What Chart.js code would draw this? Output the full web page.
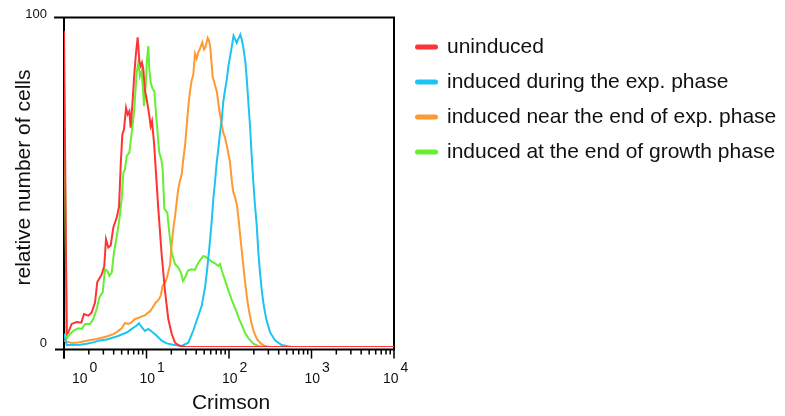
<!DOCTYPE html>
<html>
<head>
<meta charset="utf-8">
<script src="https://cdn.jsdelivr.net/npm/chart.js@4.4.0/dist/chart.umd.min.js"></script>
<style>
  html, body { margin: 0; padding: 0; background: #fff; }
</style>
</head>
<body>
<canvas id="myChart" width="785" height="416"></canvas>
<script>
// x values are log10(Crimson), y values are relative number of cells (0-100)
const uninducedLog = [0, 0.033, 0.052, 0.093, 0.154, 0.210, 0.242, 0.295, 0.336, 0.376, 0.404, 0.457, 0.488, 0.509, 0.537, 0.566, 0.598, 0.639, 0.667, 0.687, 0.707, 0.727, 0.752, 0.772, 0.792, 0.808, 0.833, 0.852, 0.873, 0.893, 0.913, 0.930, 0.945, 0.961, 0.982, 1.002, 1.030, 1.051, 1.067, 1.091, 1.112, 1.143, 1.184, 1.224, 1.264, 1.305, 1.345, 1.406, 1.479, 4];
const uninducedCount = [96, 4.0, 4.4, 7.0, 7.6, 7.4, 10.0, 9.5, 10.5, 13.5, 19.8, 22.0, 24.6, 32.7, 30.2, 30.8, 36.3, 39.3, 42.5, 55, 64.5, 66, 72.6, 70.6, 71.6, 66.6, 75.2, 82.7, 89.3, 94, 86.8, 85.3, 86.3, 84.3, 77.7, 75.2, 71, 67, 68.5, 62, 54, 42, 28, 17, 8.5, 4, 1.3, 0.3, 0, 0];

const expLog = [0, 0.033, 0.097, 0.194, 0.275, 0.355, 0.436, 0.518, 0.639, 0.699, 0.760, 0.821, 0.881, 0.909, 0.942, 0.982, 1.022, 1.063, 1.124, 1.184, 1.245, 1.325, 1.427, 1.507, 1.567, 1.628, 1.669, 1.709, 1.733, 1.761, 1.790, 1.810, 1.830, 1.851, 1.870, 1.891, 1.912, 1.931, 1.952, 1.972, 1.992, 2.012, 2.033, 2.055, 2.073, 2.093, 2.113, 2.137, 2.158, 2.176, 2.198, 2.215, 2.234, 2.255, 2.275, 2.295, 2.315, 2.336, 2.355, 2.376, 2.396, 2.416, 2.436, 2.457, 2.497, 2.558, 2.639, 2.715, 2.764, 4];
const expCount = [4, 0.6, 0.6, 0.7, 1.0, 1.4, 2.0, 2.3, 3.2, 3.8, 4.4, 5.5, 6.5, 7.2, 6.0, 4.9, 5.5, 4.7, 3.4, 1.9, 1.1, 0.7, 0.3, 1.3, 5, 9.5, 12.5, 18, 23, 30, 38, 45, 50, 56, 60, 65, 69, 74.5, 78, 81, 85, 88, 91, 94.5, 93.5, 92.3, 93.5, 94.8, 93, 90.5, 86.5, 81.5, 74.5, 67, 58, 50, 43, 37, 29, 22.5, 17.5, 13.5, 10.5, 8, 4.5, 2, 0.6, 0.2, 0, 0];

const nearEndLog = [0, 0.036, 0.097, 0.173, 0.275, 0.396, 0.518, 0.598, 0.642, 0.699, 0.739, 0.776, 0.808, 0.861, 0.901, 0.942, 0.982, 1.010, 1.042, 1.075, 1.112, 1.143, 1.172, 1.196, 1.224, 1.248, 1.285, 1.305, 1.325, 1.345, 1.366, 1.385, 1.406, 1.427, 1.446, 1.467, 1.487, 1.507, 1.527, 1.548, 1.567, 1.588, 1.608, 1.628, 1.648, 1.676, 1.697, 1.713, 1.742, 1.758, 1.773, 1.802, 1.830, 1.851, 1.882, 1.912, 1.931, 1.952, 1.979, 2.012, 2.036, 2.052, 2.073, 2.097, 2.115, 2.139, 2.164, 2.194, 2.218, 2.242, 2.275, 2.303, 2.339, 2.388, 2.436, 2.497, 4];
const nearEndCount = [2, 1.6, 1.2, 1.4, 1.9, 2.4, 3.2, 3.9, 4.6, 5.7, 7.3, 7.0, 7.3, 8.5, 8.8, 9.3, 9.6, 10.3, 10.8, 12, 13.5, 14.2, 15.5, 18.6, 19.5, 21, 25, 31, 36, 39.5, 44, 48, 50.5, 52.5, 57, 61, 67, 73, 77.5, 81, 82.5, 89, 87.5, 89.5, 90.5, 92.5, 90.3, 90.8, 93.8, 93, 91, 82, 79.5, 77.7, 72, 67.5, 65, 63.5, 60.5, 56, 50, 47, 45.5, 43, 39, 33, 27, 20, 15, 11, 7, 4.5, 2.4, 1.0, 0.3, 0, 0];

const growthEndLog = [0, 0.033, 0.052, 0.113, 0.173, 0.215, 0.255, 0.315, 0.355, 0.396, 0.428, 0.469, 0.497, 0.525, 0.549, 0.578, 0.606, 0.639, 0.670, 0.699, 0.719, 0.739, 0.760, 0.792, 0.821, 0.852, 0.881, 0.901, 0.921, 0.942, 0.954, 0.970, 0.990, 1.006, 1.022, 1.034, 1.051, 1.075, 1.095, 1.124, 1.155, 1.179, 1.196, 1.216, 1.252, 1.276, 1.305, 1.345, 1.385, 1.418, 1.442, 1.470, 1.503, 1.548, 1.588, 1.616, 1.648, 1.688, 1.709, 1.749, 1.790, 1.830, 1.870, 1.891, 1.915, 1.952, 1.988, 2.033, 2.093, 2.125, 2.154, 2.194, 2.234, 2.295, 2.355, 2.416, 4];
const growthEndCount = [81, 2.5, 3.4, 4.9, 5.7, 5.5, 7.0, 7.0, 8.5, 11.5, 15, 16.6, 23.6, 23.1, 21.6, 22.6, 28.7, 33.5, 38.5, 44.9, 52.9, 53.9, 58, 59, 65, 72.1, 83.3, 86.3, 82.2, 83.8, 79.2, 73.1, 79.2, 87.3, 91.3, 84.3, 80.2, 78.2, 77.7, 68, 59, 57, 54, 42, 40.8, 34.8, 28.7, 25.2, 24.1, 22.5, 20, 21.2, 23.2, 23.6, 23.4, 25, 26.3, 27.6, 27.5, 26.8, 25.9, 25.4, 24.6, 25.2, 23, 20.3, 17.5, 14.3, 10.6, 8.3, 6.8, 4.3, 2.7, 1.0, 0.3, 0, 0];

const seriesNames = ['uninduced', 'induced during the exp. phase', 'induced near the end of exp. phase', 'induced at the end of growth phase'];
const decades = [0, 1, 2, 3, 4];      // x tick labels are 10^d
const countTicks = [0, 100];
const xTitle = 'Crimson';
const yTitle = 'relative number of cells';

const colors = ['#ff3333', '#1cc4f4', '#ff9933', '#66ee33'];
const FONT = '"Liberation Sans", Arial, sans-serif';

function pts(logs, counts) {
    return logs.map((l, i) => ({ x: l, y: counts[i] }));
}

const series = [
    pts(uninducedLog, uninducedCount),
    pts(expLog, expCount),
    pts(nearEndLog, nearEndCount),
    pts(growthEndLog, growthEndCount)
];

// axes box, ticks, labels and legend
const frame = {
    id: 'frame',
    beforeDatasetsDraw(chart) {
        const { ctx, chartArea: a, scales: { x } } = chart;
        const yAxis = a.bottom + 2.5;
        ctx.save();
        ctx.strokeStyle = '#000';
        ctx.lineWidth = 2;
        ctx.beginPath();
        ctx.moveTo(54, a.top); ctx.lineTo(a.right + 1, a.top);
        ctx.moveTo(a.right, a.top); ctx.lineTo(a.right, yAxis);
        ctx.moveTo(55, yAxis); ctx.lineTo(a.right + 1, yAxis);
        ctx.moveTo(a.left, a.top - 1); ctx.lineTo(a.left, yAxis + 9);
        ctx.stroke();

        ctx.lineWidth = 1.5;
        ctx.beginPath();
        decades.forEach(d => {
            const px = x.getPixelForValue(d);
            ctx.moveTo(px, yAxis); ctx.lineTo(px, yAxis + 9);
            if (d < decades[decades.length - 1]) {
                for (let k = 2; k < 10; k++) {
                    const mx = x.getPixelForValue(d + Math.log10(k));
                    ctx.moveTo(mx, yAxis); ctx.lineTo(mx, yAxis + 5);
                }
            }
        });
        ctx.stroke();
        ctx.restore();
    },
    afterDraw(chart) {
        const { ctx, chartArea: a, scales: { x, y } } = chart;
        ctx.save();
        ctx.fillStyle = '#111';

        // y ticks
        ctx.font = '13px ' + FONT;
        ctx.textAlign = 'right';
        ctx.textBaseline = 'middle';
        countTicks.forEach(v => {
            ctx.fillText(String(v), 47, y.getPixelForValue(v) - 3.5);
        });

        // x ticks as 10^d
        ctx.font = '14px ' + FONT;
        ctx.textAlign = 'left';
        ctx.textBaseline = 'alphabetic';
        decades.forEach((d, i) => {
            const px = x.getPixelForValue(d);
            let left = px - 7;
            if (i === 0) left = px + 8;
            if (i === decades.length - 1) left = px - 11;
            const w = ctx.measureText('10').width;
            ctx.fillText('10', left, 383);
            ctx.fillText(String(d), left + w + 2, 372);
        });

        // axis titles
        ctx.font = '21px ' + FONT;
        ctx.textAlign = 'center';
        ctx.fillText(xTitle, 231, 409);
        ctx.save();
        ctx.translate(30, 177.5);
        ctx.rotate(-Math.PI / 2);
        ctx.fillText(yTitle, 0, 0);
        ctx.restore();

        // legend
        ctx.textAlign = 'left';
        chart.data.datasets.forEach((ds, i) => {
            const cy = 47 + i * 35;
            ctx.strokeStyle = ds.borderColor;
            ctx.lineWidth = 5;
            ctx.lineCap = 'round';
            ctx.beginPath();
            ctx.moveTo(417.5, cy); ctx.lineTo(435.5, cy);
            ctx.stroke();
            ctx.fillStyle = '#111';
            ctx.fillText(ds.label, 447, cy + 5.5);
        });
        ctx.restore();
    }
};

const ctx = document.getElementById('myChart');

const myChart = new Chart(ctx, {
    type: 'line',
    data: {
        datasets: series.map((s, i) => ({
            label: seriesNames[i],
            data: s,
            borderColor: colors[i],
            backgroundColor: colors[i],
            borderWidth: 2,
            pointRadius: 0,
            tension: 0,
            fill: false
        }))
    },
    options: {
        responsive: false,
        animation: false,
        events: [],
        layout: { padding: { left: 64, top: 17.5, right: 391, bottom: 69 } },
        scales: {
            x: { type: 'linear', min: 0, max: 4, display: false },
            y: { min: 0, max: 100, display: false }
        },
        plugins: {
            legend: { display: false },
            tooltip: { enabled: false }
        }
    },
    plugins: [frame]
});
</script>
</body>
</html>
